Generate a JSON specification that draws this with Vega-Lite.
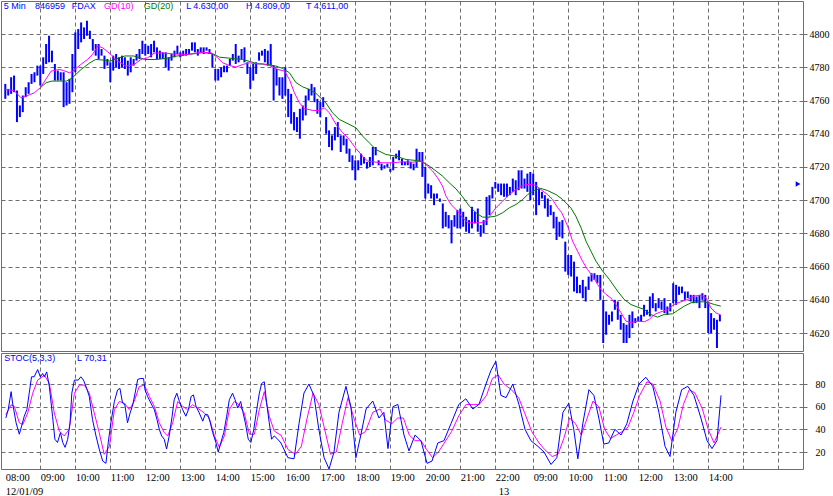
{
"$schema":"https://vega.github.io/schema/vega-lite/v6.json",
"padding":0,
"spacing":0,
"background":"white",
"config":{
 "view":{"stroke":"#6e6e6e","strokeWidth":1},
 "axis":{"gridColor":"#6e6e6e","gridDash":[4,3],"gridOpacity":1,"labelFont":"Liberation Serif","labelFontSize":10.5,"labelColor":"#000000","domain":false,"title":null,"labelOverlap":false,"tickCount":100},
 "text":{"font":"Liberation Sans","fontSize":9,"align":"left","baseline":"middle"}
},
"datasets":{
"bars":[
{"i":0,"h":4770,"l":4761},{"i":1,"h":4767,"l":4763},{"i":2,"h":4774,"l":4764},{"i":3,"h":4775,"l":4765},{"i":4,"h":4766,"l":4747},{"i":5,"h":4757,"l":4750},{"i":6,"h":4763,"l":4753},{"i":7,"h":4768,"l":4762},{"i":8,"h":4771,"l":4764},{"i":9,"h":4776,"l":4770},
{"i":10,"h":4777,"l":4771},{"i":11,"h":4781,"l":4775},{"i":12,"h":4781,"l":4769},{"i":13,"h":4786,"l":4776},{"i":14,"h":4794,"l":4782},{"i":15,"h":4799,"l":4783},{"i":16,"h":4790,"l":4783},{"i":17,"h":4782,"l":4772},{"i":18,"h":4778,"l":4772},{"i":19,"h":4777,"l":4772},
{"i":20,"h":4777,"l":4756},{"i":21,"h":4771,"l":4757},{"i":22,"h":4773,"l":4758},{"i":23,"h":4788,"l":4765},{"i":24,"h":4801,"l":4777},{"i":25,"h":4803,"l":4791},{"i":26,"h":4807,"l":4795},{"i":27,"h":4804,"l":4797},{"i":28,"h":4808,"l":4799},{"i":29,"h":4802,"l":4797},
{"i":30,"h":4797,"l":4790},{"i":31,"h":4794,"l":4787},{"i":32,"h":4794,"l":4785},{"i":33,"h":4791,"l":4787},{"i":34,"h":4787,"l":4779},{"i":35,"h":4785,"l":4781},{"i":36,"h":4783,"l":4771},{"i":37,"h":4787,"l":4778},{"i":38,"h":4788,"l":4780},{"i":39,"h":4786,"l":4779},
{"i":40,"h":4787,"l":4780},{"i":41,"h":4786,"l":4779},{"i":42,"h":4784,"l":4775},{"i":43,"h":4786,"l":4777},{"i":44,"h":4785,"l":4781},{"i":45,"h":4788,"l":4784},{"i":46,"h":4791,"l":4785},{"i":47,"h":4796,"l":4788},{"i":48,"h":4794,"l":4787},{"i":49,"h":4793,"l":4788},
{"i":50,"h":4794,"l":4786},{"i":51,"h":4796,"l":4789},{"i":52,"h":4792,"l":4785},{"i":53,"h":4790,"l":4785},{"i":54,"h":4789,"l":4785},{"i":55,"h":4789,"l":4780},{"i":56,"h":4786,"l":4778},{"i":57,"h":4788,"l":4784},{"i":58,"h":4790,"l":4786},{"i":59,"h":4793,"l":4788},
{"i":60,"h":4789,"l":4786},{"i":61,"h":4790,"l":4787},{"i":62,"h":4791,"l":4787},{"i":63,"h":4791,"l":4788},{"i":64,"h":4795,"l":4790},{"i":65,"h":4795,"l":4789},{"i":66,"h":4791,"l":4787},{"i":67,"h":4792,"l":4789},{"i":68,"h":4792,"l":4788},{"i":69,"h":4792,"l":4790},
{"i":70,"h":4791,"l":4788},{"i":71,"h":4788,"l":4780},{"i":72,"h":4779,"l":4772},{"i":73,"h":4779,"l":4772},{"i":74,"h":4780,"l":4774},{"i":75,"h":4781,"l":4777},{"i":76,"h":4781,"l":4777},{"i":77,"h":4785,"l":4781},{"i":78,"h":4788,"l":4784},{"i":79,"h":4794,"l":4782},
{"i":80,"h":4787,"l":4783},{"i":81,"h":4791,"l":4785},{"i":82,"h":4792,"l":4783},{"i":83,"h":4783,"l":4776},{"i":84,"h":4780,"l":4767},{"i":85,"h":4782,"l":4772},{"i":86,"h":4783,"l":4776},{"i":87,"h":4789,"l":4784},{"i":88,"h":4790,"l":4787},{"i":89,"h":4791,"l":4783},
{"i":90,"h":4790,"l":4781},{"i":91,"h":4794,"l":4781},{"i":92,"h":4781,"l":4760},{"i":93,"h":4779,"l":4769},{"i":94,"h":4774,"l":4763},{"i":95,"h":4774,"l":4761},{"i":96,"h":4780,"l":4763},{"i":97,"h":4767,"l":4750},{"i":98,"h":4764,"l":4746},{"i":99,"h":4753,"l":4742},
{"i":100,"h":4750,"l":4741},{"i":101,"h":4755,"l":4737},{"i":102,"h":4757,"l":4748},{"i":103,"h":4763,"l":4751},{"i":104,"h":4767,"l":4760},{"i":105,"h":4770,"l":4763},{"i":106,"h":4768,"l":4759},{"i":107,"h":4761,"l":4752},{"i":108,"h":4759,"l":4750},{"i":109,"h":4762,"l":4756},
{"i":110,"h":4750,"l":4740},{"i":111,"h":4742,"l":4732},{"i":112,"h":4739,"l":4730},{"i":113,"h":4744,"l":4736},{"i":114,"h":4747,"l":4738},{"i":115,"h":4739,"l":4729},{"i":116,"h":4739,"l":4733},{"i":117,"h":4737,"l":4728},{"i":118,"h":4731,"l":4723},{"i":119,"h":4727,"l":4718},
{"i":120,"h":4724,"l":4712},{"i":121,"h":4724,"l":4718},{"i":122,"h":4728,"l":4721},{"i":123,"h":4726,"l":4722},{"i":124,"h":4723,"l":4719},{"i":125,"h":4726,"l":4720},{"i":126,"h":4732,"l":4721},{"i":127,"h":4732,"l":4727},{"i":128,"h":4724,"l":4721},{"i":129,"h":4722,"l":4718},
{"i":130,"h":4721,"l":4719},{"i":131,"h":4722,"l":4720},{"i":132,"h":4719,"l":4717},{"i":133,"h":4726,"l":4718},{"i":134,"h":4728,"l":4725},{"i":135,"h":4730,"l":4724},{"i":136,"h":4725,"l":4721},{"i":137,"h":4723,"l":4721},{"i":138,"h":4724,"l":4721},{"i":139,"h":4723,"l":4719},
{"i":140,"h":4722,"l":4718},{"i":141,"h":4731,"l":4720},{"i":142,"h":4729,"l":4723},{"i":143,"h":4729,"l":4714},{"i":144,"h":4720,"l":4701},{"i":145,"h":4710,"l":4704},{"i":146,"h":4709,"l":4701},{"i":147,"h":4704,"l":4697},{"i":148,"h":4704,"l":4701},{"i":149,"h":4701,"l":4699},
{"i":150,"h":4698,"l":4683},{"i":151,"h":4693,"l":4684},{"i":152,"h":4691,"l":4683},{"i":153,"h":4688,"l":4674},{"i":154,"h":4691,"l":4684},{"i":155,"h":4694,"l":4683},{"i":156,"h":4695,"l":4683},{"i":157,"h":4693,"l":4684},{"i":158,"h":4690,"l":4681},{"i":159,"h":4688,"l":4680},
{"i":160,"h":4696,"l":4683},{"i":161,"h":4693,"l":4686},{"i":162,"h":4695,"l":4681},{"i":163,"h":4685,"l":4678},{"i":164,"h":4688,"l":4680},{"i":165,"h":4702,"l":4685},{"i":166,"h":4703,"l":4691},{"i":167,"h":4708,"l":4701},{"i":168,"h":4711,"l":4707},{"i":169,"h":4710,"l":4705},
{"i":170,"h":4710,"l":4703},{"i":171,"h":4710,"l":4702},{"i":172,"h":4710,"l":4702},{"i":173,"h":4708,"l":4703},{"i":174,"h":4713,"l":4705},{"i":175,"h":4712,"l":4703},{"i":176,"h":4718,"l":4706},{"i":177,"h":4718,"l":4707},{"i":178,"h":4713,"l":4707},{"i":179,"h":4716,"l":4705},
{"i":180,"h":4717,"l":4700},{"i":181,"h":4716,"l":4703},{"i":182,"h":4711,"l":4691},{"i":183,"h":4707,"l":4697},{"i":184,"h":4705,"l":4701},{"i":185,"h":4703,"l":4695},{"i":186,"h":4701,"l":4690},{"i":187,"h":4697,"l":4691},{"i":188,"h":4693,"l":4683},{"i":189,"h":4690,"l":4676},
{"i":190,"h":4687,"l":4678},{"i":191,"h":4688,"l":4677},{"i":192,"h":4675,"l":4657},{"i":193,"h":4667,"l":4655},{"i":194,"h":4667,"l":4654},{"i":195,"h":4663,"l":4645},{"i":196,"h":4654,"l":4644},{"i":197,"h":4649,"l":4644},{"i":198,"h":4652,"l":4641},{"i":199,"h":4648,"l":4639},
{"i":200,"h":4654,"l":4646},{"i":201,"h":4656,"l":4651},{"i":202,"h":4656,"l":4652},{"i":203,"h":4655,"l":4650},{"i":204,"h":4655,"l":4640},{"i":205,"h":4640,"l":4614},{"i":206,"h":4633,"l":4619},{"i":207,"h":4631,"l":4625},{"i":208,"h":4633,"l":4627},{"i":209,"h":4640,"l":4634},
{"i":210,"h":4639,"l":4628},{"i":211,"h":4631,"l":4622},{"i":212,"h":4626,"l":4614},{"i":213,"h":4625,"l":4614},{"i":214,"h":4631,"l":4617},{"i":215,"h":4633,"l":4623},{"i":216,"h":4629,"l":4626},{"i":217,"h":4630,"l":4627},{"i":218,"h":4631,"l":4627},{"i":219,"h":4637,"l":4630},
{"i":220,"h":4634,"l":4631},{"i":221,"h":4642,"l":4630},{"i":222,"h":4644,"l":4635},{"i":223,"h":4638,"l":4633},{"i":224,"h":4641,"l":4635},{"i":225,"h":4639,"l":4634},{"i":226,"h":4641,"l":4632},{"i":227,"h":4636,"l":4631},{"i":228,"h":4638,"l":4633},{"i":229,"h":4650,"l":4638},
{"i":230,"h":4649,"l":4637},{"i":231,"h":4648,"l":4643},{"i":232,"h":4648,"l":4644},{"i":233,"h":4645,"l":4640},{"i":234,"h":4645,"l":4641},{"i":235,"h":4643,"l":4639},{"i":236,"h":4643,"l":4638},{"i":237,"h":4642,"l":4638},{"i":238,"h":4643,"l":4635},{"i":239,"h":4644,"l":4640},
{"i":240,"h":4643,"l":4635},{"i":241,"h":4639,"l":4620},{"i":242,"h":4632,"l":4620},{"i":243,"h":4629,"l":4622},{"i":244,"h":4628,"l":4611},{"i":245,"h":4631,"l":4627}
],
"ma10":[
{"i":0,"v":4766.7},{"i":3,"v":4766},{"i":5.4,"v":4761.6},{"i":7,"v":4762.5},{"i":10,"v":4764.7},{"i":12,"v":4767.7},{"i":14,"v":4773},{"i":15.7,"v":4777.7},{"i":18.5,"v":4778.7},{"i":20,"v":4778},{"i":22,"v":4776.7},{"i":23.1,"v":4777.7},{"i":25.9,"v":4781.7},{"i":28.2,"v":4784.7},{"i":30,"v":4788},{"i":31.7,"v":4792.8},{"i":33.4,"v":4791.7},{"i":36.2,"v":4787.7},{"i":38.5,"v":4783.7},{"i":41.4,"v":4780.7},{"i":44.2,"v":4781.7},{"i":46.5,"v":4784.7},{"i":48.8,"v":4785.7},{"i":51,"v":4788.5},{"i":53.4,"v":4788.7},{"i":57.9,"v":4788},{"i":62.5,"v":4787.7},{"i":67.1,"v":4789},{"i":70.5,"v":4788.8},{"i":72.8,"v":4785.7},{"i":74.5,"v":4782.7},{"i":76.8,"v":4781.1},{"i":79.1,"v":4780.1},{"i":81.4,"v":4781.7},{"i":83.7,"v":4782.7},{"i":86,"v":4782.1},{"i":88.2,"v":4782.1},{"i":91,"v":4780.7},{"i":93.4,"v":4778.7},{"i":95.7,"v":4777.7},{"i":97.4,"v":4772.7},{"i":99.1,"v":4764.7},{"i":100.8,"v":4758.7},{"i":102.5,"v":4755.2},{"i":105.4,"v":4754},{"i":107.7,"v":4754},{"i":109.4,"v":4755.6},{"i":111.1,"v":4752.6},{"i":113.4,"v":4745.6},{"i":115.7,"v":4740.6},{"i":117.9,"v":4736.6},{"i":120.2,"v":4731.1},{"i":122.5,"v":4726.5},{"i":124.2,"v":4723.5},{"i":125.9,"v":4723.1},{"i":129.4,"v":4722.5},{"i":132.8,"v":4722.5},{"i":136.2,"v":4723.1},{"i":139.7,"v":4722.9},{"i":142.5,"v":4723.5},{"i":144.2,"v":4721.5},{"i":146.5,"v":4717.5},{"i":148.2,"v":4713.5},{"i":149.9,"v":4708.5},{"i":151.1,"v":4702.4},{"i":152.8,"v":4697.4},{"i":155.1,"v":4693.4},{"i":156.8,"v":4689.4},{"i":158.5,"v":4686.4},{"i":161.4,"v":4686.4},{"i":163.1,"v":4686.4},{"i":164.8,"v":4687.4},{"i":166.5,"v":4691.4},{"i":168.2,"v":4695.4},{"i":170.5,"v":4699.4},{"i":172.8,"v":4703.4},{"i":175.1,"v":4706.4},{"i":177.4,"v":4709},{"i":179.6,"v":4709.5},{"i":181.9,"v":4709},{"i":183.6,"v":4706.4},{"i":185.9,"v":4703.4},{"i":187.6,"v":4700.4},{"i":189.4,"v":4695.4},{"i":190.8,"v":4692.4},{"i":192.8,"v":4684.4},{"i":194.5,"v":4675.3},{"i":196.2,"v":4669.3},{"i":197.9,"v":4663.3},{"i":199.6,"v":4658.3},{"i":201.4,"v":4654.3},{"i":203.1,"v":4649.2},{"i":204.2,"v":4646.3},{"i":205.9,"v":4643.3},{"i":207.6,"v":4641.2},{"i":209.3,"v":4637.2},{"i":211.1,"v":4632.2},{"i":212.8,"v":4627.2},{"i":214.5,"v":4626.2},{"i":216.8,"v":4627.2},{"i":219.1,"v":4626.8},{"i":220.8,"v":4628.2},{"i":222.5,"v":4631.2},{"i":224.8,"v":4632.8},{"i":227.1,"v":4634.2},{"i":229.3,"v":4637.2},{"i":231.6,"v":4638.8},{"i":233.9,"v":4640.2},{"i":236.2,"v":4642.3},{"i":238.5,"v":4642.8},{"i":240.2,"v":4641.2},{"i":241.9,"v":4635.2},{"i":243.6,"v":4632.2},{"i":245.3,"v":4630.8}
],
"ma20":[
{"i":12,"v":4767.7},{"i":14,"v":4770.7},{"i":16,"v":4771.7},{"i":21,"v":4771.7},{"i":23,"v":4773.7},{"i":26,"v":4778.7},{"i":29,"v":4782.7},{"i":31,"v":4784.7},{"i":34,"v":4784.3},{"i":36,"v":4783.7},{"i":38,"v":4785},{"i":41,"v":4786.8},{"i":44,"v":4786.8},{"i":46,"v":4785.8},{"i":48,"v":4784.7},{"i":51.7,"v":4784.7},{"i":55.1,"v":4785.3},{"i":58.5,"v":4786.7},{"i":63.1,"v":4787.8},{"i":67.7,"v":4788.8},{"i":71.1,"v":4788.2},{"i":73.4,"v":4786.1},{"i":77.9,"v":4785.3},{"i":81.4,"v":4784.7},{"i":84.2,"v":4783.3},{"i":86.5,"v":4782.1},{"i":90,"v":4781.7},{"i":92.8,"v":4780.7},{"i":95.1,"v":4779.3},{"i":97.4,"v":4776.7},{"i":99.7,"v":4770.7},{"i":102,"v":4768.2},{"i":104.2,"v":4766.7},{"i":106.5,"v":4764.3},{"i":109.9,"v":4758.6},{"i":112.2,"v":4752.6},{"i":114.5,"v":4748.6},{"i":116.8,"v":4746.6},{"i":120.2,"v":4743.6},{"i":122.5,"v":4738.6},{"i":124.8,"v":4734.5},{"i":127.1,"v":4730.5},{"i":130.5,"v":4727.5},{"i":133.9,"v":4726.5},{"i":137.4,"v":4724.5},{"i":140.8,"v":4723.9},{"i":143.1,"v":4723.1},{"i":145.4,"v":4720.5},{"i":147.7,"v":4717.5},{"i":149.9,"v":4714.5},{"i":152.2,"v":4710.5},{"i":154.5,"v":4706.8},{"i":156.8,"v":4702},{"i":159.1,"v":4696.4},{"i":161.4,"v":4692.4},{"i":163.6,"v":4689.8},{"i":165.9,"v":4689.8},{"i":168.2,"v":4690.4},{"i":170.5,"v":4692.4},{"i":172.8,"v":4695.4},{"i":175.1,"v":4697.4},{"i":177.4,"v":4700.4},{"i":179.1,"v":4703.4},{"i":181.4,"v":4705.8},{"i":183.6,"v":4707.1},{"i":185.9,"v":4705.8},{"i":188.8,"v":4703.4},{"i":191.1,"v":4700.4},{"i":193.9,"v":4695.4},{"i":195.6,"v":4690.4},{"i":197.4,"v":4683.4},{"i":199.1,"v":4675.3},{"i":200.8,"v":4669.3},{"i":202.5,"v":4663.3},{"i":204.8,"v":4657.3},{"i":207.1,"v":4652.3},{"i":209.9,"v":4645.3},{"i":212.2,"v":4640.2},{"i":214.5,"v":4637.2},{"i":216.8,"v":4635.6},{"i":219.1,"v":4634.2},{"i":221.3,"v":4631.2},{"i":223.6,"v":4629.6},{"i":225.9,"v":4631.2},{"i":228.8,"v":4631.6},{"i":230.5,"v":4633.6},{"i":232.8,"v":4636.2},{"i":235.1,"v":4638.2},{"i":237.3,"v":4638.8},{"i":239.6,"v":4638.8},{"i":241.3,"v":4638.2},{"i":243.1,"v":4637.2},{"i":245.3,"v":4636.2}
],
"k":[
{"i":0.2,"v":50.1},{"i":1,"v":57.4},{"i":2,"v":73.3},{"i":2.5,"v":63.2},{"i":3.7,"v":45.8},{"i":4.8,"v":35.7},{"i":5.6,"v":42.9},{"i":6.5,"v":51.6},{"i":7.4,"v":57.4},{"i":8.2,"v":71.9},{"i":9,"v":86.4},{"i":9.9,"v":86.4},{"i":11.1,"v":92.8},{"i":12,"v":86.4},{"i":12.8,"v":89.3},{"i":13.4,"v":86.4},{"i":14.2,"v":90.7},{"i":15.1,"v":77.7},{"i":16.2,"v":51.6},{"i":17,"v":31.3},{"i":17.9,"v":28.4},{"i":18.9,"v":37.1},{"i":19.7,"v":28.4},{"i":20.5,"v":24.1},{"i":21.4,"v":31.3},{"i":22.2,"v":45.8},{"i":22.8,"v":71.9},{"i":23.7,"v":83.5},{"i":25,"v":83.5},{"i":25.9,"v":86.4},{"i":26.8,"v":83.5},{"i":27.9,"v":76.2},{"i":28.8,"v":69},{"i":29.9,"v":48.7},{"i":31.1,"v":34.2},{"i":32.2,"v":22.6},{"i":33.4,"v":12},{"i":34.5,"v":10},{"i":35.3,"v":28.4},{"i":36.2,"v":45.8},{"i":37.4,"v":64.6},{"i":38.5,"v":74.8},{"i":39.3,"v":76.2},{"i":40.2,"v":63.2},{"i":41,"v":61.7},{"i":41.9,"v":45.8},{"i":42.8,"v":54.5},{"i":43.7,"v":61.7},{"i":44.5,"v":71.9},{"i":45.4,"v":84.1},{"i":46.5,"v":84.9},{"i":47.4,"v":84.9},{"i":47.9,"v":74.8},{"i":48.8,"v":69},{"i":49.9,"v":63.2},{"i":51.1,"v":57.4},{"i":52,"v":48.7},{"i":52.8,"v":40},{"i":53.6,"v":34.2},{"i":54.5,"v":31.3},{"i":55.3,"v":22.6},{"i":56.2,"v":34.2},{"i":57.2,"v":51.6},{"i":57.9,"v":66.1},{"i":58.8,"v":71.9},{"i":59.7,"v":64.6},{"i":60.8,"v":57.4},{"i":61.9,"v":51.6},{"i":62.8,"v":57.4},{"i":63.7,"v":69},{"i":64.5,"v":70.4},{"i":65.4,"v":60.3},{"i":66.5,"v":54.5},{"i":67.7,"v":47.2},{"i":68.5,"v":53},{"i":69.4,"v":53},{"i":70.3,"v":45.8},{"i":71.1,"v":37.1},{"i":72.2,"v":28.4},{"i":73,"v":20},{"i":73.9,"v":28.4},{"i":74.9,"v":37.1},{"i":75.9,"v":51.6},{"i":76.8,"v":66.1},{"i":77.9,"v":71.9},{"i":78.8,"v":66.1},{"i":79.7,"v":58.8},{"i":80.7,"v":64.6},{"i":81.4,"v":55.9},{"i":82.3,"v":45.8},{"i":83.3,"v":31.3},{"i":84.2,"v":28.4},{"i":85.2,"v":40},{"i":86.2,"v":57.4},{"i":87.1,"v":71.9},{"i":87.9,"v":80.6},{"i":88.8,"v":82},{"i":89.6,"v":63.2},{"i":90.5,"v":45.8},{"i":91.3,"v":31.3},{"i":92.2,"v":34.2},{"i":93.4,"v":31.3},
{"i":94.5,"v":28},{"i":96.9,"v":15},{"i":99,"v":14},{"i":100.7,"v":45},{"i":102.4,"v":72},{"i":104.1,"v":80},{"i":105.8,"v":70},{"i":107.5,"v":40},{"i":109.3,"v":15},{"i":111,"v":5},{"i":112.7,"v":20},{"i":114.4,"v":55},{"i":116.8,"v":78},{"i":118.5,"v":60},{"i":120.2,"v":15},{"i":121.9,"v":35},{"i":123.7,"v":58},{"i":126,"v":65},{"i":128.1,"v":50},{"i":129.8,"v":55},{"i":131.2,"v":23},{"i":132.9,"v":60},{"i":134.6,"v":62},{"i":136.7,"v":35},{"i":138.4,"v":21},{"i":140.5,"v":35},{"i":142.5,"v":30},{"i":144.6,"v":10},{"i":146.3,"v":12},{"i":148.3,"v":28},{"i":150.4,"v":30},{"i":152.8,"v":45},{"i":155.5,"v":62},{"i":157.9,"v":67},{"i":160.3,"v":58},{"i":162.4,"v":62},{"i":164.8,"v":80},{"i":166.5,"v":92},{"i":168.2,"v":100},{"i":169.9,"v":70},{"i":171.7,"v":68},{"i":174,"v":80},{"i":176.1,"v":62},{"i":178.2,"v":40},{"i":180.2,"v":30},{"i":182.6,"v":25},{"i":184.7,"v":20},{"i":187.1,"v":9},{"i":189.1,"v":15},{"i":191.2,"v":55},{"i":193.2,"v":63},{"i":194.9,"v":40},{"i":196.3,"v":14},{"i":198,"v":45},{"i":200.1,"v":75},{"i":201.8,"v":70},{"i":203.5,"v":50},{"i":205.2,"v":27},{"i":206.9,"v":28},{"i":209,"v":40},{"i":211.1,"v":35},{"i":213.1,"v":45},{"i":215.2,"v":65},{"i":217.3,"v":80},{"i":219.6,"v":86},{"i":222,"v":78},{"i":224.1,"v":55},{"i":226.2,"v":25},{"i":227.9,"v":16},{"i":229.9,"v":55},{"i":231.9,"v":75},{"i":234,"v":78},{"i":236.1,"v":70},{"i":238.5,"v":50},{"i":240.6,"v":30},{"i":242.3,"v":23},{"i":244,"v":30},{"i":245.4,"v":70}
],
"d":[
{"i":0.2,"v":53},{"i":2,"v":61.7},{"i":3.1,"v":60.3},{"i":4.8,"v":45.8},{"i":6,"v":44.3},{"i":7.7,"v":54.5},{"i":9.4,"v":71.9},{"i":11.1,"v":83.5},{"i":13.4,"v":87.8},{"i":15.1,"v":80.6},{"i":16.8,"v":54.5},{"i":18.5,"v":38.6},{"i":20.2,"v":34.2},{"i":21.9,"v":40},{"i":23.7,"v":71.9},{"i":25.4,"v":79.1},{"i":27.1,"v":79.1},{"i":28.8,"v":71.9},{"i":30.5,"v":54.5},{"i":32.2,"v":37.1},{"i":33.9,"v":18},{"i":35.7,"v":25},{"i":37.4,"v":57.4},{"i":39.1,"v":64.6},{"i":40.8,"v":63.2},{"i":42.5,"v":57.4},{"i":44.2,"v":64.6},{"i":45.9,"v":77.7},{"i":47.7,"v":79.1},{"i":49.4,"v":69},{"i":51.1,"v":60.3},{"i":52.8,"v":45.8},{"i":54.5,"v":37.1},{"i":55.7,"v":34.2},{"i":57.4,"v":45.8},{"i":59.1,"v":64.6},{"i":60.8,"v":60.3},{"i":62.5,"v":57.4},{"i":64.2,"v":61.7},{"i":65.9,"v":58.8},{"i":68.2,"v":54.5},{"i":69.9,"v":50.1},{"i":71.7,"v":34.2},{"i":73.4,"v":24.1},{"i":75.1,"v":34.2},{"i":76.8,"v":57.4},{"i":78.5,"v":64.6},{"i":80.2,"v":61.7},{"i":81.9,"v":54.5},{"i":83.7,"v":35.7},{"i":85.4,"v":35.7},{"i":87.1,"v":57.4},{"i":88.8,"v":73.3},{"i":90.5,"v":51.6},{"i":92.2,"v":38.6},{"i":93.9,"v":35.7},
{"i":94.5,"v":35},{"i":97,"v":22},{"i":99.5,"v":18},{"i":101.5,"v":25},{"i":103.5,"v":50},{"i":105.5,"v":72},{"i":107.5,"v":62},{"i":109.5,"v":40},{"i":111.5,"v":18},{"i":113.5,"v":20},{"i":115.5,"v":45},{"i":117.5,"v":68},{"i":119.5,"v":50},{"i":121.5,"v":35},{"i":123.5,"v":38},{"i":126,"v":55},{"i":128.5,"v":58},{"i":130.5,"v":48},{"i":132.5,"v":45},{"i":134.5,"v":50},{"i":136.5,"v":50},{"i":138.5,"v":35},{"i":140.5,"v":30},{"i":142.5,"v":30},{"i":144.5,"v":22},{"i":146.5,"v":15},{"i":148.5,"v":20},{"i":150.5,"v":28},{"i":153,"v":38},{"i":155.5,"v":52},{"i":158,"v":62},{"i":160.5,"v":62},{"i":162.5,"v":62},{"i":165,"v":70},{"i":167,"v":85},{"i":169,"v":88},{"i":171,"v":80},{"i":173.5,"v":75},{"i":176,"v":68},{"i":178,"v":55},{"i":180.5,"v":38},{"i":183,"v":28},{"i":185,"v":22},{"i":187.5,"v":16},{"i":189.5,"v":18},{"i":191.5,"v":32},{"i":193.5,"v":50},{"i":195.5,"v":45},{"i":197.5,"v":35},{"i":199.5,"v":50},{"i":201.5,"v":65},{"i":203.5,"v":60},{"i":205.5,"v":40},{"i":207.5,"v":32},{"i":209.5,"v":35},{"i":211.5,"v":38},{"i":213.5,"v":42},{"i":215.5,"v":55},{"i":217.5,"v":70},{"i":220,"v":82},{"i":222,"v":80},{"i":224.5,"v":65},{"i":226.5,"v":42},{"i":228.5,"v":30},{"i":230.5,"v":40},{"i":232.5,"v":62},{"i":234.5,"v":75},{"i":236.5,"v":72},{"i":239,"v":58},{"i":241,"v":40},{"i":243,"v":28},{"i":245.4,"v":42}
]
},
"vconcat":[
{
 "width":802,"height":350,
 "layer":[
  {"data":{"name":"bars"},"mark":{"type":"rule","color":"#0000ff","strokeWidth":2},
   "encoding":{
    "x":{"field":"i","type":"quantitative","scale":{"domain":[-1.474,273.5],"nice":false,"zero":false},
         "axis":{"values":[12,24,36,48,60,72,84,96,108,120,132,144,156,168,181,193,205,217,229,241,253,265],"tickCount":100,"labels":false,"ticks":false,"grid":true}},
    "y":{"field":"h","type":"quantitative","scale":{"domain":[4609.2,4819.9],"nice":false,"zero":false},
         "axis":{"orient":"right","values":[4620,4640,4660,4680,4700,4720,4740,4760,4780,4800],"tickCount":100,"format":"d","labelOverlap":false,"ticks":true,"tickSize":4,"tickColor":"#6e6e6e","labelPadding":2,"labelFontSize":10}},
    "y2":{"field":"l"}}},
  {"data":{"name":"ma20"},"mark":{"type":"line","color":"#007800","strokeWidth":1},
   "encoding":{"x":{"field":"i","type":"quantitative"},"y":{"field":"v","type":"quantitative"}}},
  {"data":{"name":"ma10"},"mark":{"type":"line","color":"#ff00ff","strokeWidth":1},
   "encoding":{"x":{"field":"i","type":"quantitative"},"y":{"field":"v","type":"quantitative"}}},
  {"data":{"values":[{}]},"mark":{"type":"point","shape":"triangle-right","filled":true,"color":"#0000ff","size":30,"opacity":1},
   "encoding":{"x":{"datum":271.8,"type":"quantitative"},"y":{"datum":4709.7,"type":"quantitative"}}},
  {"data":{"values":[{}]},"mark":{"type":"text","text":"5 Min","color":"#0000ff"},"encoding":{"x":{"datum":-0.55,"type":"quantitative"},"y":{"datum":4816.6,"type":"quantitative"}}},
  {"data":{"values":[{}]},"mark":{"type":"text","text":"846959","color":"#0000ff"},"encoding":{"x":{"datum":10.2,"type":"quantitative"},"y":{"datum":4816.6,"type":"quantitative"}}},
  {"data":{"values":[{}]},"mark":{"type":"text","text":"FDAX","color":"#0000ff"},"encoding":{"x":{"datum":22.8,"type":"quantitative"},"y":{"datum":4816.6,"type":"quantitative"}}},
  {"data":{"values":[{}]},"mark":{"type":"text","text":"GD(10)","color":"#ff00ff"},"encoding":{"x":{"datum":33.8,"type":"quantitative"},"y":{"datum":4816.6,"type":"quantitative"}}},
  {"data":{"values":[{}]},"mark":{"type":"text","text":"GD(20)","color":"#007800"},"encoding":{"x":{"datum":47.5,"type":"quantitative"},"y":{"datum":4816.6,"type":"quantitative"}}},
  {"data":{"values":[{}]},"mark":{"type":"text","text":"L  4.630,00","color":"#0000ff"},"encoding":{"x":{"datum":62,"type":"quantitative"},"y":{"datum":4816.6,"type":"quantitative"}}},
  {"data":{"values":[{}]},"mark":{"type":"text","text":"H  4.809,00","color":"#0000ff"},"encoding":{"x":{"datum":82.5,"type":"quantitative"},"y":{"datum":4816.6,"type":"quantitative"}}},
  {"data":{"values":[{}]},"mark":{"type":"text","text":"T  4.611,00","color":"#0000ff"},"encoding":{"x":{"datum":103.1,"type":"quantitative"},"y":{"datum":4816.6,"type":"quantitative"}}}
 ]
},
{
 "width":802,"height":116,
 "layer":[
  {"data":{"name":"d"},"mark":{"type":"line","color":"#ff00ff","strokeWidth":1},
   "encoding":{
    "x":{"field":"i","type":"quantitative","scale":{"domain":[-1.474,273.5],"nice":false,"zero":false},
         "axis":{"values":[0,12,24,36,48,60,72,84,96,108,120,132,144,156,168,169,181,193,205,217,229,241,253,265],"tickCount":100,"ticks":false,"grid":true,
                 "gridOpacity":{"condition":{"test":"datum.value == 0 || datum.value == 169","value":0},"value":1},
                 "labelOverlap":false,"labelBound":false,"labelFlush":false,"labelAlign":"left","labelDx":-6,"labelPadding":3,"labelLineHeight":14,"labelBaseline":"top","labelFontSize":10.5,
                 "labelExpr":"datum.value == 0 ? ['08:00','12/01/09'] : datum.value == 169 ? [' ','13'] : datum.value > 245 ? '' : (((datum.value < 169 ? 8 + datum.value/12 : 8 + (datum.value-169)/12) < 10 ? '0' : '') + (datum.value < 169 ? 8 + datum.value/12 : 8 + (datum.value-169)/12) + ':00')"}},
    "y":{"field":"v","type":"quantitative","scale":{"domain":[5,107.4],"nice":false,"zero":false},
         "axis":{"orient":"right","values":[20,40,60,80],"tickCount":100,"format":"d","labelOverlap":false,"ticks":true,"tickSize":4,"tickColor":"#6e6e6e","labelPadding":8,"labelFontSize":10}}}},
  {"data":{"name":"k"},"mark":{"type":"line","color":"#0000ff","strokeWidth":1,"clip":true},
   "encoding":{"x":{"field":"i","type":"quantitative"},"y":{"field":"v","type":"quantitative"}}},
  {"data":{"values":[{}]},"mark":{"type":"text","text":"STOC(5,3,3)","color":"#0000ff"},"encoding":{"x":{"datum":-0.35,"type":"quantitative"},"y":{"datum":102.7,"type":"quantitative"}}},
  {"data":{"values":[{}]},"mark":{"type":"text","text":"L  70,31","color":"#0000ff"},"encoding":{"x":{"datum":24.6,"type":"quantitative"},"y":{"datum":102.7,"type":"quantitative"}}}
 ]
}
]
}
